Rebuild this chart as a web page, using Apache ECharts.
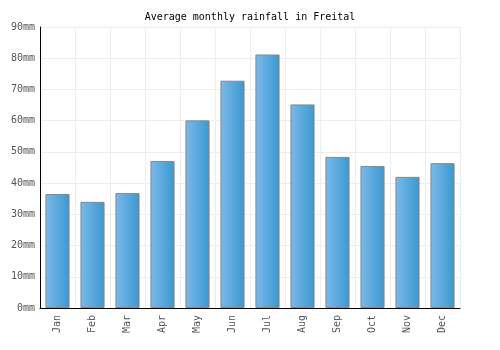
<!DOCTYPE html>
<html><head><meta charset="utf-8">
<script src="https://cdn.jsdelivr.net/npm/echarts@6/dist/echarts.min.js"></script>
<style>html,body{margin:0;padding:0;background:#fff}#c{width:500px;height:350px}</style>
</head><body><div id="c"></div>
<script>
const categories = ['Jan','Feb','Mar','Apr','May','Jun','Jul','Aug','Sep','Oct','Nov','Dec'];
const rainfall = [36.5, 34, 36.8, 47.1, 60.1, 72.8, 81.2, 65.2, 48.4, 45.5, 42, 46.4];
const titleText = 'Average monthly rainfall in Freital';
const yUnit = 'mm';

const font = '"DejaVu Sans Mono", monospace';
const chart = echarts.init(document.getElementById('c'), null, {renderer:'canvas'});
chart.setOption({
  animation:false,
  title:{text:titleText,left:'center',top:7,textStyle:{fontFamily:font,fontSize:10,fontWeight:'normal',color:'#000'}},
  grid:{left:40,right:40,top:27,bottom:42,containLabel:false},
  xAxis:{type:'category',data:categories,
    axisLine:{lineStyle:{color:'#000',width:1}},
    axisTick:{show:false},
    splitLine:{show:true,lineStyle:{color:'#eeeeee'}},
    axisLabel:{rotate:90,fontFamily:font,fontSize:10,color:'#555',margin:7,interval:0}},
  yAxis:{type:'value',min:0,max:90,interval:10,
    axisLine:{show:true,lineStyle:{color:'#000',width:1}},
    axisTick:{show:false},
    splitLine:{show:true,lineStyle:{color:'#eeeeee'}},
    axisLabel:{formatter:v=>v+yUnit,fontFamily:font,fontSize:10,color:'#555',margin:5}},
  series:[{type:'bar',data:rainfall,barCategoryGap:'31%',
    itemStyle:{borderColor:'#888',borderWidth:1,
      color:new echarts.graphic.LinearGradient(0,0,1,0,[{offset:0,color:'#7cb9ea'},{offset:1,color:'#3a98cf'}])}}]
});
</script></body></html>
